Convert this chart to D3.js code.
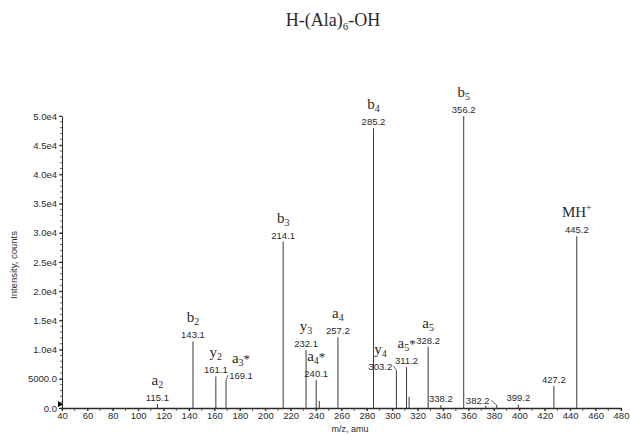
<!DOCTYPE html>
<html>
<head>
<meta charset="utf-8">
<script src="https://cdn.jsdelivr.net/npm/d3@7"></script>
<style>
  html, body { margin: 0; padding: 0; background: #fff; }
  svg { display: block; }
</style>
</head>
<body>
<svg id="chart" width="630" height="434"></svg>
<script>
// Product-ion spectrum of H-(Ala)6-OH
const peakMz        = [115.1, 143.1, 161.1, 169.1, 214.1, 232.1, 240.1, 242.5, 257.2, 285.2, 303.2, 311.2, 313.2, 328.2, 338.2, 356.2, 373.6, 382.2, 399.2, 427.2, 445.2];
const peakIntensity = [700, 11400, 5400, 4800, 28500, 9900, 4800, 1200, 12100, 47900, 6400, 7000, 1900, 10500, 500, 50000, 400, 500, 600, 3800, 29400];

// peaks that carry an m/z label
const labelledMz = [115.1, 143.1, 161.1, 169.1, 214.1, 232.1, 240.1, 257.2, 285.2, 303.2, 311.2, 328.2, 338.2, 356.2, 382.2, 399.2, 427.2, 445.2];

// fragment-ion assignments: letter, subscript, trailing mark
const ionMz    = [115.1, 143.1, 161.1, 169.1, 214.1, 232.1, 240.1, 257.2, 285.2, 303.2, 311.2, 328.2, 356.2, 445.2];
const ionBase  = ["a", "b", "y", "a", "b", "y", "a", "a", "b", "y", "a", "a", "b", "MH"];
const ionSub   = ["2", "2", "2", "3", "3", "3", "4", "4", "4", "4", "5", "5", "5", ""];
const ionMark  = ["", "", "", "*", "", "", "*", "", "", "", "*", "", "", "+"];

const yTicks = [0, 5000, 10000, 15000, 20000, 25000, 30000, 35000, 40000, 45000, 50000];
const yTickLabels = ["0.0", "5000.0", "1.0e4", "1.5e4", "2.0e4", "2.5e4", "3.0e4", "3.5e4", "4.0e4", "4.5e4", "5.0e4"];
const xTicks = [40, 60, 80, 100, 120, 140, 160, 180, 200, 220, 240, 260, 280, 300, 320, 340, 360, 380, 400, 420, 440, 460, 480];

// label nudges for crowded peaks (pixels), joined back by a short leader
const labelShift = { 169.1: 15, 303.2: -16, 382.2: -19 };

const svg = d3.select("#chart");
const ink = "#2a2a2a";
const sans = "Arial, 'Liberation Sans', sans-serif";
const serif = "'Liberation Serif', 'Times New Roman', serif";

const x = d3.scaleLinear().domain([40, 480]).range([62, 621]);
const y = d3.scaleLinear().domain([0, 50000]).range([408, 116]);

// title
svg.append("text")
  .attr("x", 333).attr("y", 26)
  .attr("text-anchor", "middle")
  .attr("font-family", serif)
  .attr("font-size", 18).attr("fill", ink)
  .call(t => {
    t.append("tspan").text("H-(Ala)");
    t.append("tspan").attr("font-size", 11).attr("dy", 4).text("6");
    t.append("tspan").attr("dy", -4).text("-OH");
  });

// minor ticks
const gMinor = svg.append("g").attr("stroke", ink).attr("stroke-width", 0.7);
gMinor.selectAll("line.ym").data(d3.range(0, 50001, 1000)).join("line")
  .attr("x1", x(40) - 2).attr("x2", x(40))
  .attr("y1", d => y(d)).attr("y2", d => y(d));
gMinor.selectAll("line.xm").data(d3.range(40, 481, 10)).join("line")
  .attr("x1", d => x(d)).attr("x2", d => x(d))
  .attr("y1", y(0)).attr("y2", y(0) + 3);

// y axis
const yAxis = d3.axisLeft(y)
  .tickValues(yTicks)
  .tickFormat((d, i) => yTickLabels[i])
  .tickSize(3).tickSizeOuter(0).tickPadding(2);
const gy = svg.append("g").attr("transform", `translate(${x(40)},0)`).call(yAxis);
gy.select(".domain").attr("stroke", ink);
gy.selectAll(".tick line").attr("stroke", ink);
gy.selectAll(".tick text")
  .attr("font-family", sans)
  .attr("font-size", 9.5).attr("fill", ink);

// x axis
const xAxis = d3.axisBottom(x)
  .tickValues(xTicks)
  .tickSize(3).tickSizeOuter(0).tickPadding(1);
const gx = svg.append("g").attr("transform", `translate(0,${y(0)})`).call(xAxis);
gx.select(".domain").attr("stroke", ink).attr("stroke-width", 1.4);
gx.selectAll(".tick line").attr("stroke", ink);
gx.selectAll(".tick text")
  .attr("font-family", sans)
  .attr("font-size", 9.5).attr("fill", ink);

// axis titles
svg.append("text")
  .attr("transform", `translate(17,${(y(0) + y(50000)) / 2 + 3}) rotate(-90)`)
  .attr("text-anchor", "middle")
  .attr("font-family", sans)
  .attr("font-size", 9.5).attr("fill", ink)
  .text("Intensity, counts");
svg.append("text")
  .attr("x", 350).attr("y", 432)
  .attr("text-anchor", "middle")
  .attr("font-family", sans)
  .attr("font-size", 9).attr("fill", ink)
  .text("m/z, amu");

// origin marker
svg.append("path")
  .attr("d", `M${x(40) - 4},${y(0) - 7} L${x(40) + 1},${y(0) - 3.5} L${x(40) - 4},${y(0) - 1} Z`)
  .attr("fill", "#000");

// peaks
const peaks = peakMz.map((m, i) => ({ mz: m, v: peakIntensity[i] }));
svg.append("g").selectAll("line").data(peaks).join("line")
  .attr("x1", d => x(d.mz)).attr("x2", d => x(d.mz))
  .attr("y1", y(0)).attr("y2", d => y(d.v))
  .attr("stroke", "#3a3a3a").attr("stroke-width", 1);

// m/z labels
const intensityOf = m => peakIntensity[peakMz.indexOf(m)];
const labelPos = m => {
  const dx = labelShift[m] || 0;
  const top = y(intensityOf(m));
  return { x: x(m) + dx, y: top - (dx ? 1 : 3), dx, top };
};

const gLab = svg.append("g")
  .attr("font-family", sans)
  .attr("font-size", 9.5).attr("fill", ink);
gLab.selectAll("text").data(labelledMz).join("text")
  .attr("x", d => labelPos(d).x).attr("y", d => labelPos(d).y)
  .attr("text-anchor", "middle")
  .text(d => d.toFixed(1));

// leader lines from shifted labels back to their peaks
svg.append("g").selectAll("path").data(labelledMz.filter(m => labelShift[m])).join("path")
  .attr("d", m => {
    const p = labelPos(m);
    const px = x(m);
    const sx = p.dx > 0 ? p.x - 13 : p.x + 13;
    return `M${sx},${p.y - 4} L${px},${p.top}`;
  })
  .attr("fill", "none").attr("stroke", ink).attr("stroke-width", 0.7);

// ion assignments
const gIon = svg.append("g")
  .attr("font-family", serif)
  .attr("font-size", 15).attr("fill", ink);
ionMz.forEach((m, i) => {
  const p = labelPos(m);
  const t = gIon.append("text")
    .attr("x", p.x).attr("y", p.y - 16)
    .attr("text-anchor", "middle");
  t.append("tspan").text(ionBase[i]);
  if (ionSub[i]) t.append("tspan").attr("font-size", 10).attr("dy", 3).text(ionSub[i]);
  if (ionMark[i] === "*") t.append("tspan").attr("font-size", 13).attr("dy", -3).text("*");
  if (ionMark[i] === "+") t.append("tspan").attr("font-size", 10).attr("dy", -6).text("+");
});
</script>
</body>
</html>
